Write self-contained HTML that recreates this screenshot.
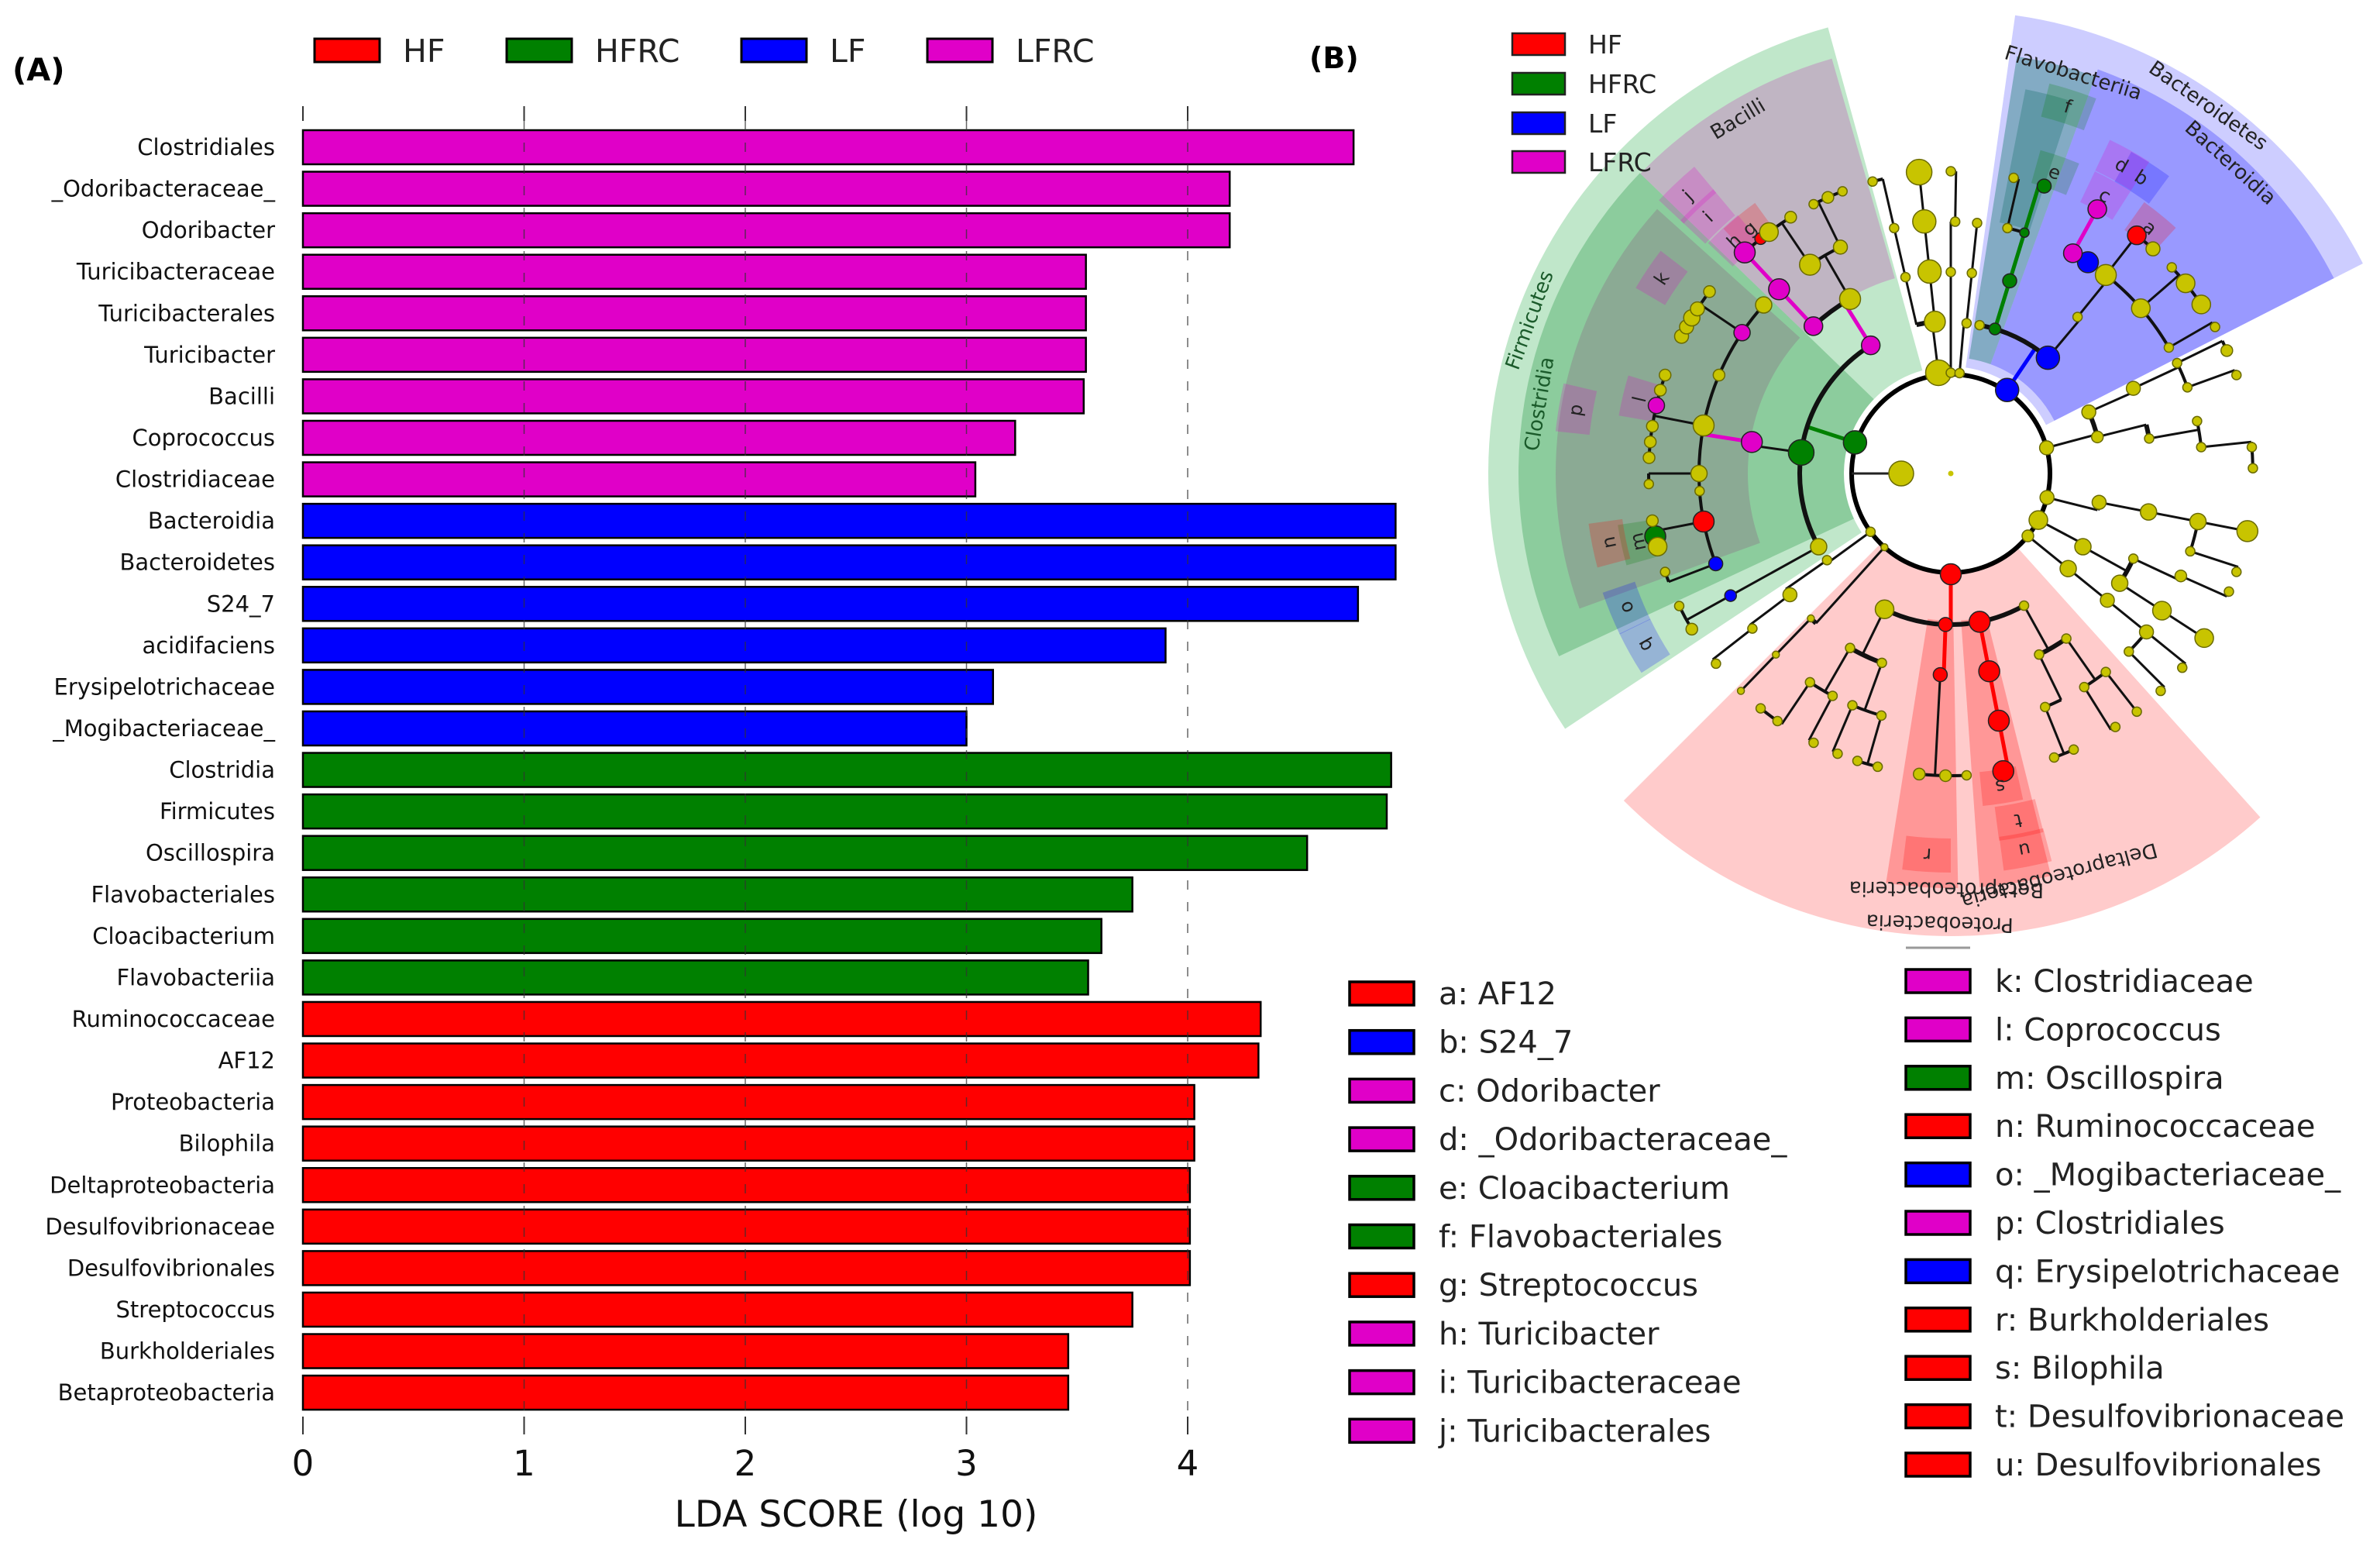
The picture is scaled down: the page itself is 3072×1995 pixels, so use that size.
<!DOCTYPE html>
<html><head><meta charset="utf-8"><title>LEfSe LDA and cladogram</title>
<style>html,body{margin:0;padding:0;background:#fff;}svg{display:block;}text{font-family:"DejaVu Sans","Liberation Sans",sans-serif;}</style>
</head><body>
<svg id="fig" xmlns="http://www.w3.org/2000/svg" width="3072" height="1995" viewBox="0 0 3072 1995">
<rect x="0" y="0" width="3072" height="1995" fill="#fff"/>
<text x="16" y="104" font-size="40" font-weight="bold">(A)</text>
<text x="1690" y="88" font-size="38" font-weight="bold">(B)</text>
<g id="barTop"></g>
<g id="bars"></g>
<g id="clado"></g>
<g id="cladoLegend"></g>
<g id="letterLegend"></g>
</svg>
<script>
const NS="http://www.w3.org/2000/svg";
const categories=["Clostridiales","_Odoribacteraceae_","Odoribacter","Turicibacteraceae","Turicibacterales","Turicibacter","Bacilli","Coprococcus","Clostridiaceae","Bacteroidia","Bacteroidetes","S24_7","acidifaciens","Erysipelotrichaceae","_Mogibacteriaceae_","Clostridia","Firmicutes","Oscillospira","Flavobacteriales","Cloacibacterium","Flavobacteriia","Ruminococcaceae","AF12","Proteobacteria","Bilophila","Deltaproteobacteria","Desulfovibrionaceae","Desulfovibrionales","Streptococcus","Burkholderiales","Betaproteobacteria"];
const ldaValues=[4.75,4.19,4.19,3.54,3.54,3.54,3.53,3.22,3.04,4.94,4.94,4.77,3.90,3.12,3.00,4.92,4.90,4.54,3.75,3.61,3.55,4.33,4.32,4.03,4.03,4.01,4.01,4.01,3.75,3.46,3.46];
const groups=["LFRC","LFRC","LFRC","LFRC","LFRC","LFRC","LFRC","LFRC","LFRC","LF","LF","LF","LF","LF","LF","HFRC","HFRC","HFRC","HFRC","HFRC","HFRC","HF","HF","HF","HF","HF","HF","HF","HF","HF","HF"];
const groupNames=["HF","HFRC","LF","LFRC"];
const groupColors={HF:"#ff0000",HFRC:"#008000",LF:"#0000ff",LFRC:"#e000c8",y:"#c8c400"};
const xTicks=[0,1,2,3,4];

function el(tag,attrs,parent){const e=document.createElementNS(NS,tag);for(const k in attrs)e.setAttribute(k,attrs[k]);parent.appendChild(e);return e;}
const X0=391,XS=285.5,Y0=168,PITCH=53.57,BH=44;
const xs=v=>X0+v*XS;
const ys=i=>Y0+i*PITCH;

const lt=document.getElementById("barTop");
const legX=[406,654,957,1197];
groupNames.forEach((g,i)=>{
  const r=el("rect",{x:legX[i],y:50,width:84,height:30,fill:groupColors[g],stroke:"#000","stroke-width":3},lt);
  
  
  const t=el("text",{x:legX[i]+114,y:80,"font-size":41,fill:"#222"},lt);t.textContent=g;
  
  
});

const gb=document.getElementById("bars");
xTicks.forEach(v=>{
  const a=el("line",{x1:xs(v),x2:xs(v),y1:137,y2:156,stroke:"#333","stroke-width":2},gb);
  
  
  const b=el("line",{x1:xs(v),x2:xs(v),y1:1828,y2:1851,stroke:"#333","stroke-width":2},gb);
  
  
  const t=el("text",{x:xs(v),y:1904,"font-size":45,"text-anchor":"middle",fill:"#111"},gb);t.textContent=v;
  
  
});
categories.forEach((c,i)=>{
  const y=ys(i);
  const r=el("rect",{x:X0,y:y,width:xs(ldaValues[i])-X0,height:BH,fill:groupColors[groups[i]],stroke:"#000","stroke-width":2.5},gb);
  
  
  const t=el("text",{x:355,y:y+BH/2+10,"font-size":29,"text-anchor":"end",fill:"#111"},gb);t.textContent=c;
  
  
});
xTicks.slice(1).forEach(v=>{
  const g=el("line",{x1:xs(v),x2:xs(v),y1:156,y2:1828,stroke:"#333","stroke-width":1.5,"stroke-dasharray":"12 16",opacity:0.75},gb);
  
  
});
const xl=el("text",{x:1105,y:1970,"font-size":47,"text-anchor":"middle",fill:"#111"},gb);xl.textContent="LDA SCORE (log 10)";



const CX=2518,CY=611;
const wedgeNames=["Firmicutes","Clostridia","Clostridiales-p","Bacilli","Bacteroidetes","Bacteroidia","Flavobacteriia","Flavobacteriales-f","Proteobacteria","Betaproteobacteria","Deltaproteobacteria"];
const wedgeA0=[146.5,155,160,224,278,290,279,281,48,89,76];
const wedgeA1=[254.6,224,222,254,333,333,290,288,135,99,86];
const wedgeR0=[138,138,262,262,138,150,150,330,130,190,190];
const wedgeR1=[597,558,510,557,597,555,545,505,597,535,535];
const wedgeFill=["#2eb050","#2a9a4a","#8a808a","#c0a0c0","#7b7bff","#4a4aff","#3a8a8a","#2e7e7e","#ff6a6a","#ff2020","#ff2020"];
const wedgeOp=[0.3,0.35,0.45,0.7,0.38,0.4,0.5,0.4,0.35,0.3,0.3];

const nodes=[
["F","root",198,130,"HFRC",10],["B","root",304,130,"LF",10],["P","root",90,130,"HF",9],
["Y1","root",345,128,"y",6],["Y2","root",263,131,"y",11],["Y3","root",144,128,"y",4],["Y4","root",14,128,"y",6],["Y5","root",28,128,"y",8],["Y6","root",39,128,"y",5],["Y7","root",132,128,"y",3],["Y8","root",270,130,"y",4],["Y9","root",275,130,"y",4],
["Cl","F",188,195,"HFRC",11],["Bac","F",238,195,"LFRC",8],["Er","F",151,195,"y",7],
["p","Cl",189,260,"LFRC",9],
["p1","p",191,325,"y",9],["k","p",214,325,"LFRC",7],["p2","p",180,325,"y",7],["p3","p",176,325,"y",4],["n","p",169,325,"HF",9],["o","p",159,325,"LF",6],["p4","p",222,325,"y",7],["p5","p",203,325,"y",5],
["l","p1",193,390,"LFRC",7],["p1a","p1",183,390,"y",5],["p1b","p1",186,390,"y",5],["p1c","p1",189,390,"y",5],["p1d","p1",196,390,"y",5],["p1e","p1",199,390,"y",5],
["ka","k",207,390,"y",6],["kb","k",209,390,"y",6],["kc","k",211,390,"y",7],["kd","k",213,390,"y",6],["ke","k",217,390,"y",5],
["p2a","p2",178,390,"y",4],
["m","n",168,390,"HFRC",9],["na","n",166,390,"y",8],["nb","n",171,390,"y",5],
["oa","o",161,390,"y",4],
["q","Er",151,325,"LF",5],["qa","q",149,390,"y",5],["qb","q",154,390,"y",4],
["y3a","Y3",145,195,"y",4],["y3b","y3a",143,260,"y",6],["y3c","y3b",142,325,"y",4],["y3d","y3c",141,390,"y",4],
["y7a","Y7",134,260,"y",3],["y7b","y7a",134,325,"y",3],["y7c","y7b",134,390,"y",3],
["t1","Bac",227,260,"LFRC",8],["b2","Bac",240,260,"y",9],
["i","t1",227,325,"LFRC",9],["h","i",227,390,"LFRC",9],["g","i",231,390,"HF",5],
["b2a","b2",236,325,"y",9],["b2b","b2",244,325,"y",6],
["b2c","b2a",233,390,"y",8],["b2d","b2a",238,390,"y",5],["b2e","b2b",243,390,"y",4],["b2f","b2b",246,390,"y",5],["b2g","b2b",249,390,"y",4],
["c1","Y2",264,197,"y",9],["c2","Y2",257,260,"y",4],["c1a","c1",264,262,"y",10],["c1b","c1a",264,327,"y",10],["c1c","c1b",264,391,"y",11],
["c2a","c2",257,325,"y",4],["c2b","c2a",255,390,"y",4],
["y8a","Y8",270,260,"y",4],["y8b","y8a",271,325,"y",4],["y8c","y8b",270,390,"y",4],
["y9a","Y9",276,195,"y",4],["y9b","y9a",276,260,"y",4],["y9c","y9b",276,325,"y",4],
["Bd","B",310,195,"LF",10],["Fl","B",287,195,"HFRC",5],["Bx","B",281,195,"y",4],
["f","Fl",287,260,"HFRC",6],["fa","f",287,325,"HFRC",4],["e","fa",288,390,"HFRC",6],["fb","f",283,325,"y",4],["fc","fb",282,390,"y",4],
["Ba","Bd",309,260,"y",4],
["b","Ba",303,325,"LF",9],["d","Ba",299,325,"LFRC",8],["Bb","Ba",308,325,"y",9],["Bc","Ba",319,325,"y",8],["Be","Ba",330,325,"y",4],
["c","d",299,390,"LFRC",8],["a","Bb",308,390,"HF",8],["Bf","Bb",312,390,"y",6],
["Bg","Bc",321,390,"y",8],["Bh","Bc",326,390,"y",8],["Bi","Bc",317,390,"y",4],["Bj","Be",331,390,"y",4],
["y1a","Y1",336,195,"y",6],["y1b","Y1",346,195,"y",5],
["y1c","y1a",335,260,"y",6],["y1d","y1c",334,325,"y",4],["y1e","y1d",336,390,"y",5],["y1f","y1c",340,325,"y",4],["y1g","y1f",341,390,"y",4],
["y1h","y1b",350,260,"y",4],["y1i","y1h",348,325,"y",4],["y1j","y1h",354,325,"y",4],["y1k","y1j",355,390,"y",4],["y1l","y1j",359,390,"y",4],
["y4a","Y4",11,195,"y",6],["y4b","y4a",11,260,"y",7],["y4c","y4b",11,325,"y",7],["y4d","y4c",11,390,"y",9],["y4e","y4b",18,325,"y",4],["y4f","y4e",19,390,"y",4],
["y5a","Y5",29,195,"y",7],["y5b","y5a",33,260,"y",7],["y5c","y5b",33,325,"y",8],["y5d","y5c",33,390,"y",8],["y5e","y5a",25,260,"y",4],["y5f","y5e",24,325,"y",5],["y5g","y5f",23,390,"y",4],
["y6a","Y6",39,195,"y",7],["y6b","y6a",39,260,"y",6],["y6c","y6b",39,325,"y",6],["y6d","y6c",40,390,"y",4],["y6e","y6b",45,325,"y",4],["y6f","y6e",46,390,"y",4],
["Beta","P",92,195,"HF",6],["De","P",79,195,"HF",9],["Ga","P",116,195,"y",8],["Ep","P",61,195,"y",4],
["r","Beta",93,260,"HF",6],["ra","r",96,390,"y",5],["rb","r",91,390,"y",5],["rc","r",87,390,"y",4],
["u","De",79,260,"HF",9],["t","u",79,325,"HF",9],["s","t",80,390,"HF",9],
["ga1","Ga",120,260,"y",4],["ga2","Ga",110,260,"y",4],
["ga3","ga1",124,325,"y",4],["ga4","ga3",125,390,"y",4],["ga5","ga3",129,390,"y",4],["ga6","ga1",118,325,"y",4],["ga7","ga6",117,390,"y",4],
["ga8","ga2",106,325,"y",4],["ga9","ga8",104,390,"y",4],["ga10","ga8",108,390,"y",4],["ga11","ga2",113,325,"y",4],["ga12","ga11",112,390,"y",4],
["ep1","Ep",64,260,"y",4],["ep2","Ep",55,260,"y",4],["ep3","ep1",68,325,"y",4],["ep4","ep3",70,390,"y",4],["ep5","ep3",66,390,"y",4],
["ep6","ep2",58,325,"y",4],["ep7","ep6",57,390,"y",4],["ep8","ep2",52,325,"y",4],["ep9","ep8",52,390,"y",4]
];
const cladeLetters=["a","b","c","d","e","f","g","h","i","j","k","l","m","n","o","p","q","r","s","t","u"];
const cladeNames=["AF12","S24_7","Odoribacter","_Odoribacteraceae_","Cloacibacterium","Flavobacteriales","Streptococcus","Turicibacter","Turicibacteraceae","Turicibacterales","Clostridiaceae","Coprococcus","Oscillospira","Ruminococcaceae","_Mogibacteriaceae_","Clostridiales","Erysipelotrichaceae","Burkholderiales","Bilophila","Desulfovibrionaceae","Desulfovibrionales"];
const cladeGroups=["HF","LF","LFRC","LFRC","HFRC","HFRC","HF","LFRC","LFRC","LFRC","LFRC","LFRC","HFRC","HF","LF","LFRC","LF","HF","HF","HF","HF"];
const letterAngle=[309,302.8,299,299,289,287.7,230.6,227,226.6,226.6,214,193.4,167.7,168.6,157.6,189.6,150.7,93.5,81,79,78.9];
const letterRadius=[408,454,410,455,411,497,409,410,456,494,450,413,413,450,453,491,453,493,409,456,495];
const wedgeLabels=["Firmicutes","Clostridia","Bacilli","Flavobacteriia","Bacteroidetes","Bacteroidia","Proteobacteria","Betaproteobacteria","Deltaproteobacteria"];
const wedgeLabelAngle=[200,189.6,239,287,305,312,91.4,90.6,74.9];
const wedgeLabelRadius=[578,538,533,540,579,539,580,536,537];
const wedgeLabelColor=["#1a5a2a","#1a5a2a","#222","#222","#222","#222","#222","#222","#222"];

const rad=d=>d*Math.PI/180;
const px=(a,r)=>CX+r*Math.cos(rad(a));
const py=(a,r)=>CY+r*Math.sin(rad(a));
function sector(a0,a1,r0,r1){
  const large=(a1-a0)>180?1:0;
  return `M${px(a0,r0)},${py(a0,r0)} L${px(a0,r1)},${py(a0,r1)} A${r1},${r1} 0 ${large} 1 ${px(a1,r1)},${py(a1,r1)} L${px(a1,r0)},${py(a1,r0)} A${r0},${r0} 0 ${large} 0 ${px(a0,r0)},${py(a0,r0)} Z`;
}
function arc(a0,a1,r){
  if(a1<a0){const t=a0;a0=a1;a1=t;}
  return `M${px(a0,r)},${py(a0,r)} A${r},${r} 0 0 1 ${px(a1,r)},${py(a1,r)}`;
}
const gc=document.getElementById("clado");
wedgeNames.forEach((w,i)=>{
  const p=el("path",{d:sector(wedgeA0[i],wedgeA1[i],wedgeR0[i],wedgeR1[i]),fill:wedgeFill[i],"fill-opacity":wedgeOp[i]},gc);
  
  
});
cladeLetters.forEach((L,i)=>{
  const a=letterAngle[i],r=letterRadius[i];
  const p=el("path",{d:sector(a-3.5,a+3.5,r-22,r+22),fill:groupColors[cladeGroups[i]],"fill-opacity":0.22},gc);
  
  
});
const ring=el("circle",{cx:CX,cy:CY,r:128,fill:"none",stroke:"#000","stroke-width":6},gc);


const center=el("circle",{cx:CX,cy:CY,r:3.5,fill:"#c8c400"},gc);


const inl=el("line",{x1:px(180,128),y1:py(180,128),x2:px(180,64),y2:py(180,64),stroke:"#222","stroke-width":3},gc);


const byId={};nodes.forEach(n=>byId[n[0]]=n);
const kids={};nodes.forEach(n=>{(kids[n[1]]=kids[n[1]]||[]).push(n);});
const edgeG=el("g",{},gc);


Object.keys(kids).forEach(pid=>{
  if(pid==="root")return;
  const p=byId[pid];
  const ch=kids[pid];
  const rc=ch[0][3];
  const colored=ch.some(c=>c[4]!=="y"&&c[4]===p[4]);
  const col=colored?groupColors[p[4]]:"#111";
  const l=el("line",{x1:px(p[2],p[3]),y1:py(p[2],p[3]),x2:px(p[2],rc),y2:py(p[2],rc),stroke:col,"stroke-width":colored?5:3},edgeG);
  
  
  const angs=ch.map(c=>c[2]).concat([p[2]]);
  const a0=Math.min(...angs),a1=Math.max(...angs);
  if(a1-a0>0.01){
    const ar=el("path",{d:arc(a0,a1,rc),fill:"none",stroke:"#111","stroke-width":rc<270?6:4},edgeG);
    
    
  }
  ch.forEach(c=>{if(Math.abs(c[3]-rc)>1){
    const l2=el("line",{x1:px(c[2],rc),y1:py(c[2],rc),x2:px(c[2],c[3]),y2:py(c[2],c[3]),stroke:"#111","stroke-width":3},edgeG);
    
    
  }});
});
const bigInner=el("circle",{cx:px(180,64),cy:py(180,64),r:16,fill:"#c8c400",stroke:"#6b6b00","stroke-width":1.5},gc);


nodes.forEach(n=>{
  const c=el("circle",{cx:px(n[2],n[3]),cy:py(n[2],n[3]),r:n[5]*1.5,fill:groupColors[n[4]],stroke:n[4]==="y"?"#6b6b00":"#222","stroke-width":1.5},gc);
  
  
});
cladeLetters.forEach((L,i)=>{
  const a=letterAngle[i],r=letterRadius[i];
  const t=el("text",{x:px(a,r),y:py(a,r),"font-size":24,"text-anchor":"middle","dominant-baseline":"central",fill:"#222",transform:`rotate(${a+90} ${px(a,r)} ${py(a,r)})`},gc);
  t.textContent=L;
  
  
});
wedgeLabels.forEach((w,i)=>{
  const a=wedgeLabelAngle[i],r=wedgeLabelRadius[i];
  const t=el("text",{x:px(a,r),y:py(a,r),"font-size":26,"text-anchor":"middle","dominant-baseline":"central",fill:wedgeLabelColor[i],transform:`rotate(${a+90} ${px(a,r)} ${py(a,r)})`},gc);
  t.textContent=w;
  
  
});

const cl=document.getElementById("cladoLegend");
const cly=[57,108,159,209];
groupNames.forEach((g,i)=>{
  const r=el("rect",{x:1952,y:cly[i]-14,width:68,height:28,fill:groupColors[g],stroke:"#222","stroke-width":2.5},cl);
  
  
  const t=el("text",{x:2050,y:cly[i]+12,"font-size":33,fill:"#222"},cl);t.textContent=g;
  
  
});

const ll=document.getElementById("letterLegend");
const gl=el("line",{x1:2460,x2:2543,y1:1223,y2:1223,stroke:"#999","stroke-width":3},ll);


cladeLetters.forEach((L,i)=>{
  const left=i<10;
  const row=left?i:i-10;
  const yc=left?1282+row*62.7:1266+row*62.4;
  const bx=left?1742:2460;
  const r=el("rect",{x:bx,y:yc-15,width:83,height:30,fill:groupColors[cladeGroups[i]],stroke:"#000","stroke-width":3.5},ll);
  
  
  const t=el("text",{x:bx+115,y:yc+14,"font-size":40,fill:"#222"},ll);t.textContent=L+": "+cladeNames[i];
  
  
});
</script>
</body></html>
